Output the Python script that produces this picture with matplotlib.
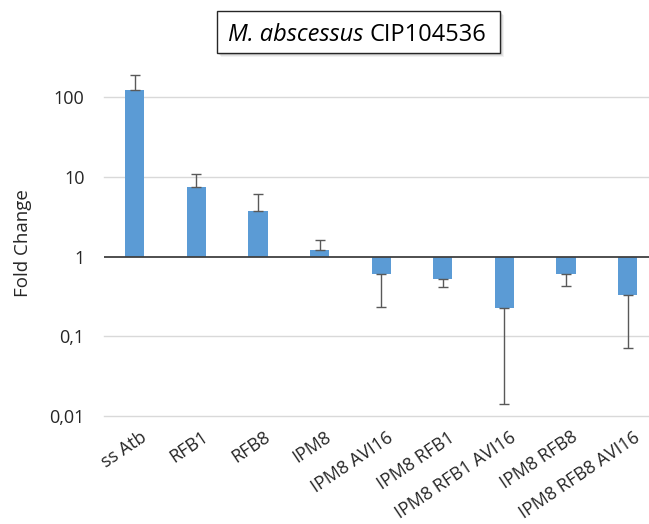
import matplotlib
matplotlib.use("Agg")
import matplotlib.pyplot as plt
import matplotlib.transforms as mtransforms
from matplotlib.patches import Rectangle
import numpy as np

# ---- data ----
categories = ["ss Atb", "RFB1", "RFB8", "IPM8", "IPM8 AVI16", "IPM8 RFB1",
              "IPM8 RFB1 AVI16", "IPM8 RFB8", "IPM8 RFB8 AVI16"]
fold_change = [123, 7.5, 3.68, 1.21, 0.596, 0.526, 0.224, 0.608, 0.329]
error_sd = [65, 3.4, 2.4, 0.41, 0.366, 0.116, 0.21, 0.182, 0.258]
ytick_values = [0.01, 0.1, 1, 10, 100]
ytick_labels = ["0,01", "0,1", "1", "10", "100"]

plt.rcParams['font.family'] = ['Open Sans', 'DejaVu Sans']

W, H = 649, 524
fig = plt.figure(figsize=(W / 100, H / 100), dpi=100)
fig.patch.set_facecolor("white")

# axes geometry in pixels
left_px, bottom_px, top_px = 104, 415.7, 40
spacing_px = 61.6
width_px = 9 * spacing_px
ax = fig.add_axes([left_px / W, (H - bottom_px) / H, width_px / W, (bottom_px - top_px) / H])

x = np.arange(len(categories))
vals = np.array(fold_change)
sd = np.array(error_sd)
heights = vals - 1.0
up = np.where(vals >= 1, sd, 0)
down = np.where(vals < 1, sd, 0)

ax.set_yscale("log")
decade_px = 79.6
ytop = 10 ** (2 + (97.3 - top_px) / decade_px)
ax.set_ylim(0.01, ytop)
ax.set_xlim(-0.5, 8.5)

for yv in [0.01, 0.1, 10, 100]:
    ax.axhline(yv, color="#D9D9D9", lw=1.0, zorder=0, clip_on=False)

ax.bar(x, heights, bottom=1.0, width=0.31, color="#5B9BD5", zorder=2)
ax.errorbar(x, vals, yerr=[down, up], fmt="none", ecolor="#595959",
            elinewidth=1.0, capsize=3.5, capthick=1.0, zorder=3)
ax.axhline(1.0, color="#404040", lw=1.3, zorder=4)

for s in ax.spines.values():
    s.set_visible(False)

ax.set_yticks(ytick_values)
ax.set_yticklabels(ytick_labels)
ax.yaxis.set_minor_locator(matplotlib.ticker.NullLocator())
ax.tick_params(axis="y", length=0, pad=14, labelsize=13, labelcolor="#262626")
ax.set_xticks(x)
ax.set_xticklabels(categories, rotation=34, ha="right", va="top",
                   rotation_mode="anchor", fontsize=13, color="#262626")
ax.tick_params(axis="x", length=0, pad=9)
offset = mtransforms.ScaledTranslation(5 / 100, 0, fig.dpi_scale_trans)
for lbl in ax.get_xticklabels():
    lbl.set_transform(lbl.get_transform() + offset)

ax.set_ylabel("Fold Change", fontsize=13.5, color="#262626", va="center")
ax.yaxis.set_label_coords((23 - left_px) / width_px, (bottom_px - 243) / (bottom_px - top_px))

# ---- title box with shadow ----
bx0, by0, bx1, by1 = 217, 11, 500, 53
def fig_rect(x0, y0, x1, y1, **kw):
    return Rectangle((x0 / W, 1 - y1 / H), (x1 - x0) / W, (y1 - y0) / H,
                     transform=fig.transFigure, **kw)
for off, a in [(4, 0.10), (3, 0.15), (2, 0.2)]:
    fig.patches.append(fig_rect(bx0 + off, by0 + off, bx1 + off, by1 + off,
                                facecolor="#808080", edgecolor="none", alpha=a, zorder=9))
fig.patches.append(fig_rect(bx0, by0, bx1, by1, facecolor="white",
                            edgecolor="#262626", lw=1.0, zorder=10))

renderer = fig.canvas.get_renderer()
t1 = fig.text(228 / W, 1 - 41 / H, "M. abscessus ", fontsize=17, style="italic",
              color="black", va="baseline", ha="left", zorder=11)
bb = t1.get_window_extent(renderer=renderer)
fig.text(bb.x1 / W, 1 - 41 / H, "CIP104536", fontsize=17, color="black",
         va="baseline", ha="left", zorder=11)

fig.savefig("out.png", dpi=100)
